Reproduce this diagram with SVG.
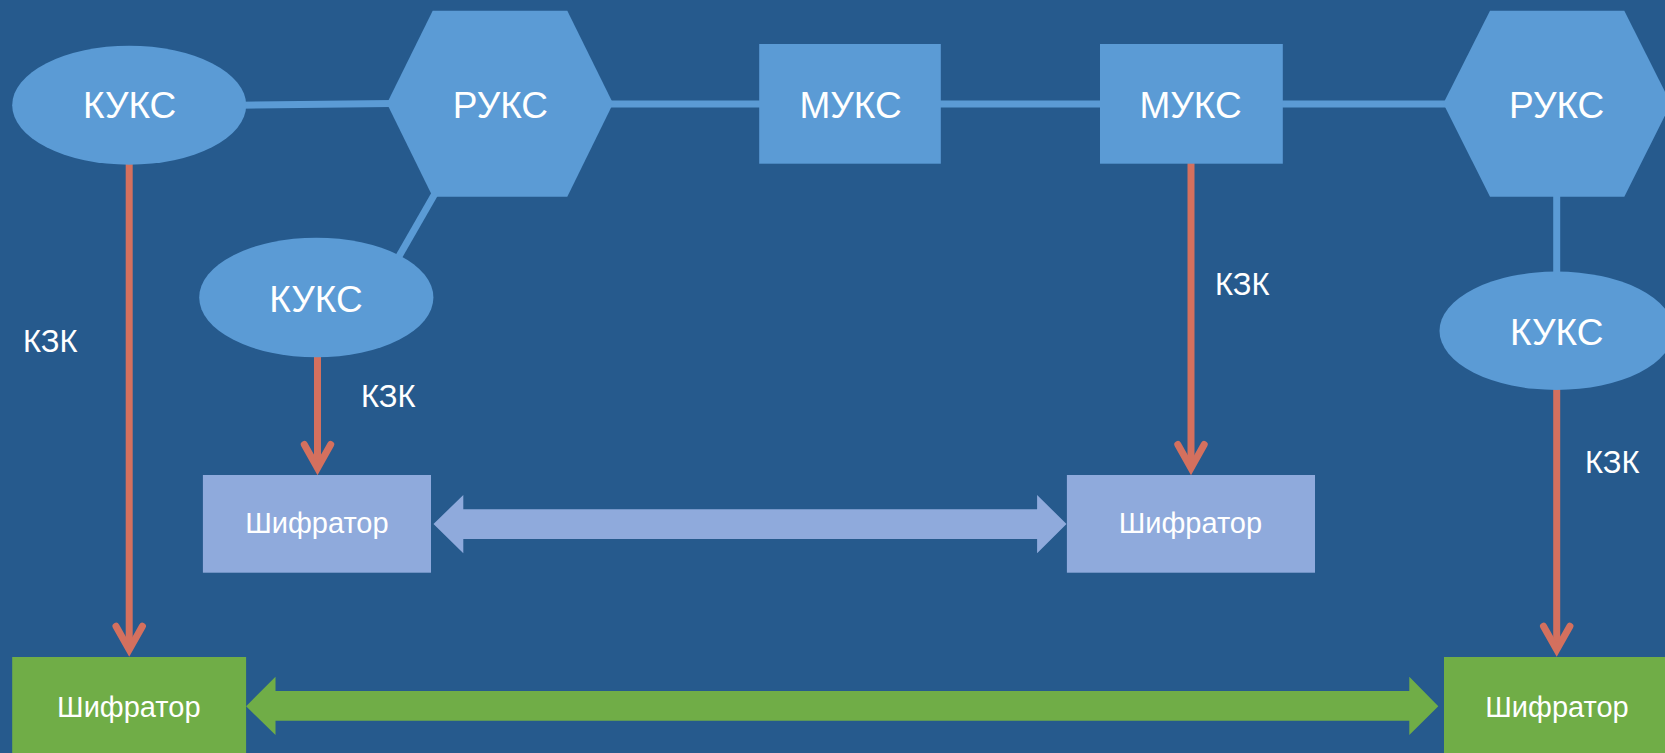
<svg xmlns="http://www.w3.org/2000/svg" width="1665" height="753" viewBox="0 0 1665 753">
  <style>
    .node { fill: #5B9BD5; }
    .enc { fill: #8FAADC; }
    .encg { fill: #70AD47; }
    .link { stroke: #5B9BD5; stroke-width: 7; fill: none; }
    .kzk { stroke: #D4705E; stroke-width: 7; fill: none; }
    .lbl { font-family: "Liberation Sans", Arial, sans-serif; fill: #FFFFFF; text-anchor: middle; font-size: 37px; }
    .enclbl { font-family: "Liberation Sans", Arial, sans-serif; fill: #FFFFFF; text-anchor: middle; font-size: 29px; }
    .klbl { font-family: "Liberation Sans", Arial, sans-serif; fill: #FFFFFF; font-size: 31px; }
  </style>
  <defs>
    <marker id="chev" markerUnits="userSpaceOnUse" viewBox="-30 -20 40 40" refX="0" refY="0" markerWidth="40" markerHeight="40" orient="auto" overflow="visible">
      <path d="M -23.5,-13.2 L 0,0 L -23.5,13.2" fill="none" stroke="#D4705E" stroke-width="7" stroke-linecap="round" stroke-linejoin="miter"/>
    </marker>
  </defs>
  <rect x="0" y="0" width="1665" height="753" fill="#265A8D"/>

  <g id="connectors">
    <line class="link" x1="240" y1="105.2" x2="392" y2="103.6"/>
    <line class="link" x1="610" y1="104" x2="762" y2="104"/>
    <line class="link" x1="938" y1="104" x2="1103" y2="104"/>
    <line class="link" x1="1280" y1="104" x2="1446" y2="104"/>
    <line class="link" x1="434.7" y1="194" x2="398" y2="258"/>
    <line class="link" x1="1556.7" y1="194" x2="1556.7" y2="274"/>

    <line class="kzk" x1="129.2" y1="162" x2="129.2" y2="649.7" marker-end="url(#chev)"/>
    <line class="kzk" x1="317.5" y1="355" x2="317.5" y2="468" marker-end="url(#chev)"/>
    <line class="kzk" x1="1191" y1="161" x2="1191" y2="468" marker-end="url(#chev)"/>
    <line class="kzk" x1="1556.7" y1="388" x2="1556.7" y2="649.7" marker-end="url(#chev)"/>

    <polygon class="enc" points="433.5,524 463.3,495 463.3,509.3 1037.1,509.3 1037.1,495 1066.5,524 1037.1,553.3 1037.1,539 463.3,539 463.3,553.3"/>
    <polygon class="encg" points="246.1,706.2 275.5,676.7 275.5,691 1409.3,691 1409.3,676.7 1438.3,706.2 1409.3,735 1409.3,720.7 275.5,720.7 275.5,735"/>

    <text class="klbl" x="23" y="352">КЗК</text>
    <text class="klbl" x="361" y="406.5">КЗК</text>
    <text class="klbl" x="1215" y="295">КЗК</text>
    <text class="klbl" x="1585" y="473">КЗК</text>
  </g>

  <g id="kuks1">
    <ellipse class="node" cx="129.2" cy="105.2" rx="117" ry="59.5"/>
    <text class="lbl" x="129.6" y="118.3">КУКС</text>
  </g>
  <g id="ruks1">
    <polygon class="node" points="386.9,103.6 432.7,10.7 567.3,10.7 613.1,103.6 567.3,196.7 432.7,196.7"/>
    <text class="lbl" x="500.4" y="118">РУКС</text>
  </g>
  <g id="muks1">
    <rect class="node" x="759.2" y="44" width="181.6" height="119.7"/>
    <text class="lbl" x="850.6" y="117.7">МУКС</text>
  </g>
  <g id="muks2">
    <rect class="node" x="1100" y="44" width="182.8" height="119.7"/>
    <text class="lbl" x="1190.6" y="117.7">МУКС</text>
  </g>
  <g id="ruks2">
    <polygon class="node" points="1443.3,103.6 1490,10.7 1624.3,10.7 1671,103.6 1624.3,196.7 1490,196.7"/>
    <text class="lbl" x="1556.7" y="117.7">РУКС</text>
  </g>
  <g id="kuks2">
    <ellipse class="node" cx="316.3" cy="297.5" rx="117.1" ry="59.8"/>
    <text class="lbl" x="316" y="311.7">КУКС</text>
  </g>
  <g id="kuks3">
    <ellipse class="node" cx="1556.5" cy="330.8" rx="117" ry="59.2"/>
    <text class="lbl" x="1556.7" y="345">КУКС</text>
  </g>
  <g id="enc1">
    <rect class="enc" x="202.9" y="475" width="228.1" height="97.7"/>
    <text class="enclbl" x="316.9" y="533.3">Шифратор</text>
  </g>
  <g id="enc2">
    <rect class="enc" x="1066.9" y="475" width="248.1" height="97.7"/>
    <text class="enclbl" x="1190.4" y="533.3">Шифратор</text>
  </g>
  <g id="enc3">
    <rect class="encg" x="12.2" y="657" width="233.9" height="96"/>
    <text class="enclbl" x="128.8" y="716.7">Шифратор</text>
  </g>
  <g id="enc4">
    <rect class="encg" x="1444" y="657" width="221" height="96"/>
    <text class="enclbl" x="1557" y="716.7">Шифратор</text>
  </g>
</svg>
